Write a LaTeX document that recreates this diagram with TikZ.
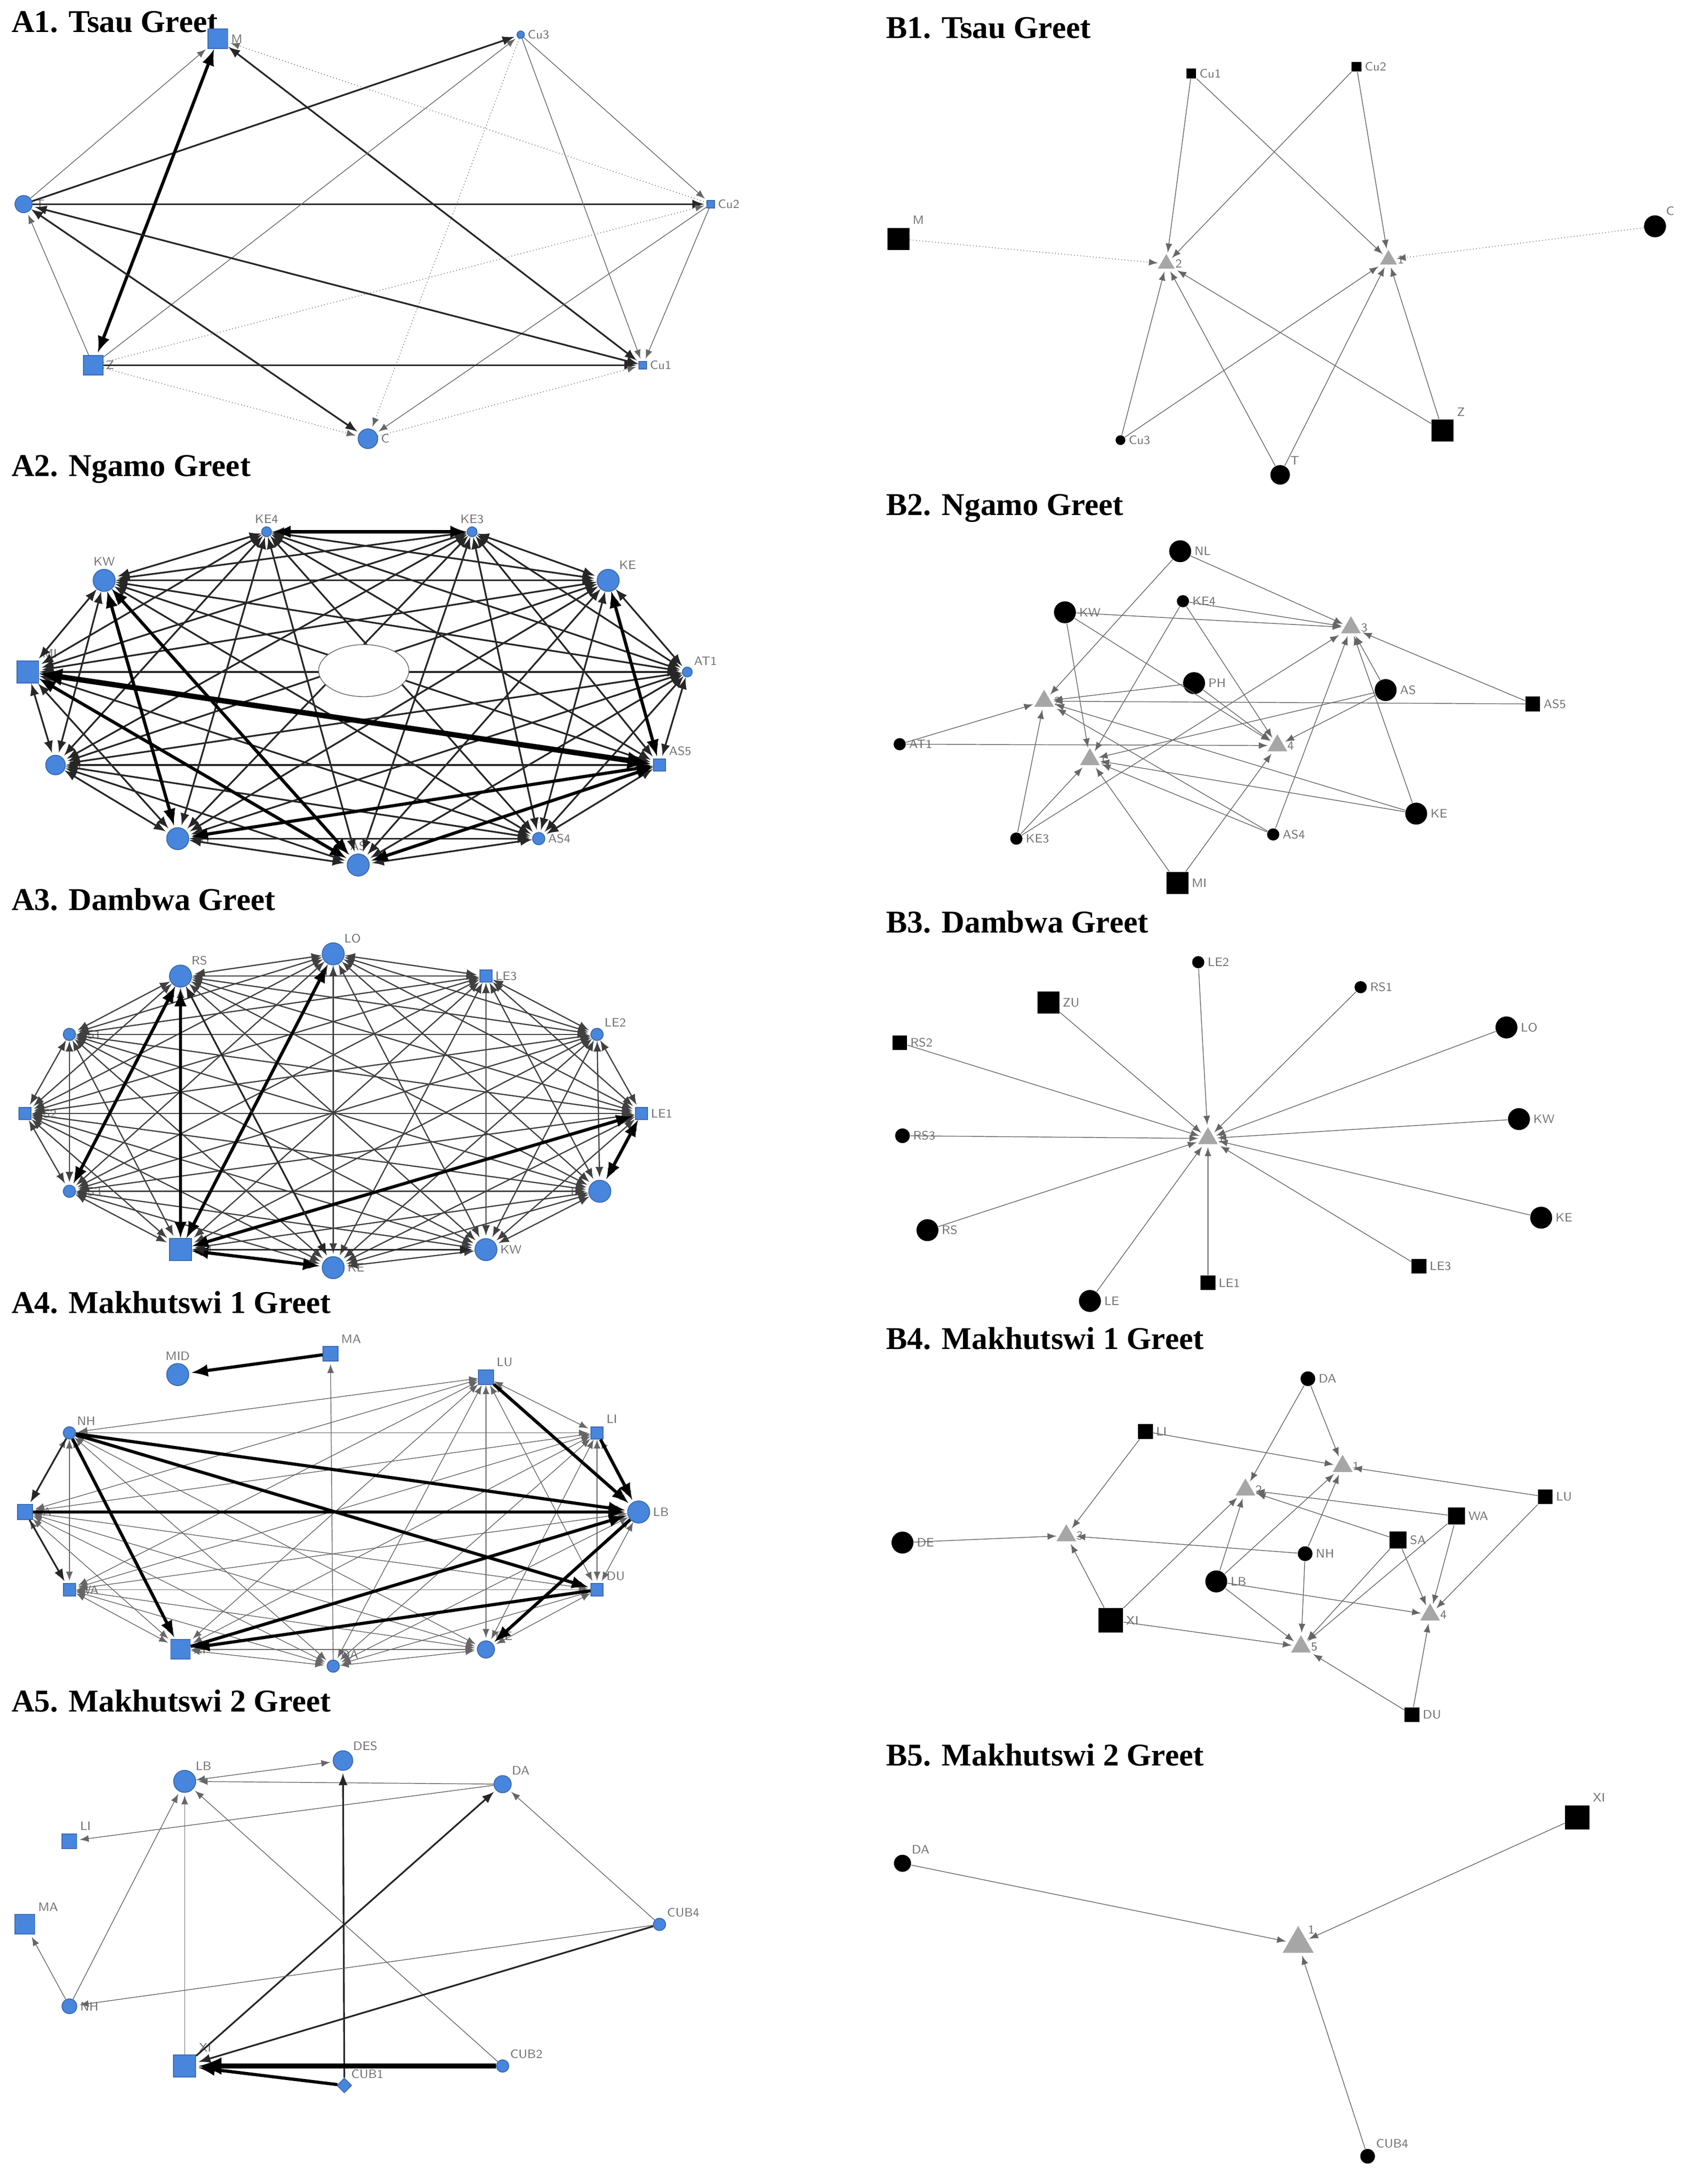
\documentclass[tikz,border=0pt]{standalone}
\usepackage{fontspec}
\setmainfont{Liberation Serif}
\usetikzlibrary{shapes.geometric}
\definecolor{nodeblue}{RGB}{72,134,222}
\tikzset{
  lab/.style={font=\fontsize{5}{5}\selectfont\sffamily, text=black!55, inner sep=1pt},
  bsq/.style={draw=nodeblue!80!black, fill=nodeblue, rectangle, inner sep=0pt, minimum size=#1},
  bci/.style={draw=nodeblue!80!black, fill=nodeblue, circle, inner sep=0pt, minimum size=#1},
  bdi/.style={draw=nodeblue!80!black, fill=nodeblue, diamond, inner sep=0pt, minimum size=#1},
  ksq/.style={fill=black, rectangle, inner sep=0pt, minimum size=#1},
  kci/.style={fill=black, circle, inner sep=0pt, minimum size=#1},
  tri/.style={fill=black!35, isosceles triangle, shape border rotate=90, isosceles triangle apex angle=60, inner sep=0pt, minimum size=#1},
  e/.style={->, >=latex, draw=black!60, line width=0.3pt, shorten >=1pt},
  ed/.style={e, densely dotted},
  em/.style={e, draw=black!85, line width=0.7pt},
  et/.style={e, draw=black, line width=1.3pt},
  ett/.style={e, draw=black, line width=2.2pt},
  ttl/.style={anchor=west, font=\fontsize{13}{15}\selectfont\bfseries, inner sep=0pt},
}
\begin{document}
\begin{tikzpicture}[x=0.02cm, y=-0.02cm]
  \useasboundingbox (0,0) rectangle (1220,1573);

  % titles
  \node[ttl] (tA1) at (8,16) {A1. Tsau Greet};
  \node[ttl] (tA2) at (8,338) {A2. Ngamo Greet};
  \node[ttl] (tA3) at (8,648) {A3. Dambwa Greet};
  \node[ttl] (tA4) at (8,938) {A4. Makhutswi 1 Greet};
  \node[ttl] (tA5) at (8,1225) {A5. Makhutswi 2 Greet};
  \node[ttl] (tB1) at (638,20) {B1. Tsau Greet};
  \node[ttl] (tB2) at (638,366) {B2. Ngamo Greet};
  \node[ttl] (tB3) at (638,664) {B3. Dambwa Greet};
  \node[ttl] (tB4) at (638,964) {B4. Makhutswi 1 Greet};
  \node[ttl] (tB5) at (638,1264) {B5. Makhutswi 2 Greet};

  % A1
  \node[bsq=8pt, label={[lab]right:M}] (a1M) at (157,28) {};
  \node[bci=3pt, label={[lab]right:Cu3}] (a1Cu3) at (375,25) {};
  \node[bsq=3pt, label={[lab]right:Cu2}] (a1Cu2) at (512,147) {};
  \node[bsq=3pt, label={[lab]right:Cu1}] (a1Cu1) at (463,263) {};
  \node[bci=8pt, label={[lab]right:C}] (a1C) at (265,316) {};
  \node[bsq=8pt, label={[lab]right:Z}] (a1Z) at (67,263) {};
  \node[bci=7pt, label={[lab]right:T}] (a1T) at (17,147) {};
  \draw[e] (a1T) -- (a1M);
  \draw[em] (a1T) -- (a1Cu3);
  \draw[em] (a1T) -- (a1Cu2);
  \draw[et, <->] (a1M) -- (a1Z);
  \draw[em, <->] (a1M) -- (a1Cu1);
  \draw[ed] (a1Cu2) -- (a1M);
  \draw[e] (a1Z) -- (a1Cu3);
  \draw[ed] (a1Cu3) -- (a1C);
  \draw[e] (a1Cu3) -- (a1Cu1);
  \draw[e] (a1Cu3) -- (a1Cu2);
  \draw[ed] (a1Z) -- (a1Cu2);
  \draw[e] (a1Cu2) -- (a1C);
  \draw[e] (a1Cu2) -- (a1Cu1);
  \draw[em, <->] (a1Cu1) -- (a1T);
  \draw[em, <->] (a1T) -- (a1C);
  \draw[e] (a1Z) -- (a1T);
  \draw[em] (a1Z) -- (a1Cu1);
  \draw[ed] (a1Z) -- (a1C);
  \draw[ed] (a1C) -- (a1Cu1);

  % A2
  \node[bci=4pt, label={[lab]above:KE4}] (a2KE4) at (192,383) {};
  \node[bci=4pt, label={[lab]above:KE3}] (a2KE3) at (340,383) {};
  \node[bci=9pt, label={[lab]above:KW}] (a2KW) at (75,418) {};
  \node[bci=9pt, label={[lab]above right:KE}] (a2KE) at (438,418) {};
  \node[bsq=9pt, label={[lab]above right:MI}] (a2MI) at (20,484) {};
  \node[bci=4pt, label={[lab]above right:AT1}] (a2AT1) at (495,484) {};
  \node[bci=8pt, label={[lab]right:NL}] (a2NL) at (40,551) {};
  \node[bsq=5pt, label={[lab]above right:AS5}] (a2AS5) at (475,551) {};
  \node[bci=9pt, label={[lab]right:PH}] (a2PH) at (128,604) {};
  \node[bci=5pt, label={[lab]right:AS4}] (a2AS4) at (388,604) {};
  \node[bci=9pt, label={[lab]above:AS}] (a2AS) at (258,623) {};
  \foreach \u [count=\i] in {KE4,KE3,KW,KE,MI,AT1,NL,AS5,PH,AS4,AS}{
    \foreach \v [count=\j] in {KE4,KE3,KW,KE,MI,AT1,NL,AS5,PH,AS4,AS}{
      \ifnum\j>\i \draw[em, <->] (a2\u) -- (a2\v); \fi
    }
  }
  \draw[ett, <->] (a2MI) -- (a2AS5);
  \draw[et, <->] (a2KW) -- (a2PH);
  \draw[et, <->] (a2KW) -- (a2AS);
  \draw[et, <->] (a2MI) -- (a2AS);
  \draw[et, <->] (a2AS5) -- (a2AS);
  \draw[et, <->] (a2AS5) -- (a2PH);
  \draw[et, <->] (a2KE) -- (a2AS5);
  \draw[et, <->] (a2KE3) -- (a2KE4);
  \node[ellipse, draw=black!60, line width=0.3pt, fill=white, minimum width=1.3cm, minimum height=0.75cm, inner sep=0pt] (a2hole) at (262,483) {};

  % A3
  \node[bci=9pt, label={[lab]above right:LO}] (a3LO) at (240,687) {};
  \node[bci=9pt, label={[lab]above right:RS}] (a3RS) at (130,703) {};
  \node[bsq=5pt, label={[lab]right:LE3}] (a3LE3) at (350,703) {};
  \node[bci=5pt, label={[lab]right:RS1}] (a3RS1) at (50,745) {};
  \node[bci=5pt, label={[lab]above right:LE2}] (a3LE2) at (430,745) {};
  \node[bsq=5pt, label={[lab]right:RS2}] (a3RS2) at (18,802) {};
  \node[bsq=5pt, label={[lab]right:LE1}] (a3LE1) at (462,802) {};
  \node[bci=5pt, label={[lab]right:RS3}] (a3RS3) at (50,858) {};
  \node[bci=9pt, label={[lab]left:LE}] (a3LE) at (432,858) {};
  \node[bsq=9pt, label={[lab]right:ZU}] (a3ZU) at (130,900) {};
  \node[bci=9pt, label={[lab]right:KW}] (a3KW) at (350,900) {};
  \node[bci=9pt, label={[lab]right:KE}] (a3KE) at (240,913) {};
  \foreach \u [count=\i] in {LO,RS,LE3,RS1,LE2,RS2,LE1,RS3,LE,ZU,KW,KE}{
    \foreach \v [count=\j] in {LO,RS,LE3,RS1,LE2,RS2,LE1,RS3,LE,ZU,KW,KE}{
      \ifnum\j>\i \draw[e, draw=black!75, line width=0.5pt, <->] (a3\u) -- (a3\v); \fi
    }
  }
  \draw[et, <->] (a3ZU) -- (a3LE1);
  \draw[et, <->] (a3ZU) -- (a3LO);
  \draw[et, <->] (a3ZU) -- (a3RS);
  \draw[et, <->] (a3ZU) -- (a3KE);
  \draw[et, <->] (a3RS) -- (a3RS3);
  \draw[et, <->] (a3LE1) -- (a3LE);
  \draw[em, <->] (a3ZU) -- (a3KW);
  \draw[em, <->] (a3RS) -- (a3KE);

  % A4
  \node[bci=9pt, label={[lab]above:MID}] (a4MID) at (128,990) {};
  \node[bsq=6pt, label={[lab]above right:MA}] (a4MA) at (238,975) {};
  \node[bsq=6pt, label={[lab]above right:LU}] (a4LU) at (350,992) {};
  \node[bci=5pt, label={[lab]above right:NH}] (a4NH) at (50,1032) {};
  \node[bsq=5pt, label={[lab]above right:LI}] (a4LI) at (430,1032) {};
  \node[bsq=6pt, label={[lab]right:SA}] (a4SA) at (18,1089) {};
  \node[bci=9pt, label={[lab]right:LB}] (a4LB) at (460,1089) {};
  \node[bsq=5pt, label={[lab]right:WA}] (a4WA) at (50,1145) {};
  \node[bsq=5pt, label={[lab]above right:DU}] (a4DU) at (430,1145) {};
  \node[bsq=8pt, label={[lab]right:XI}] (a4XI) at (130,1188) {};
  \node[bci=5pt, label={[lab]above right:DA}] (a4DA) at (240,1200) {};
  \node[bci=7pt, label={[lab]above right:DE}] (a4DE) at (350,1188) {};
  \draw[et] (a4MA) -- (a4MID);
  \draw[e] (a4DA) -- (a4MA);
  \foreach \u [count=\i] in {LU,NH,LI,SA,LB,WA,DU,XI,DA,DE}{
    \foreach \v [count=\j] in {LU,NH,LI,SA,LB,WA,DU,XI,DA,DE}{
      \ifnum\j>\i \draw[e, <->] (a4\u) -- (a4\v); \fi
    }
  }
  \draw[et] (a4NH) -- (a4LB);
  \draw[et] (a4NH) -- (a4DU);
  \draw[et] (a4SA) -- (a4LB);
  \draw[et] (a4XI) -- (a4LB);
  \draw[et] (a4LU) -- (a4LB);
  \draw[et] (a4LI) -- (a4LB);
  \draw[et] (a4DU) -- (a4XI);
  \draw[et] (a4LB) -- (a4DE);
  \draw[et] (a4NH) -- (a4XI);
  \draw[em] (a4SA) -- (a4WA);
  \draw[em] (a4NH) -- (a4SA);

  % A5
  \node[bci=9pt, label={[lab]above right:LB}] (a5LB) at (133,1283) {};
  \node[bci=8pt, label={[lab]above right:DES}] (a5DES) at (247,1268) {};
  \node[bci=7pt, label={[lab]above right:DA}] (a5DA) at (362,1285) {};
  \node[bsq=6pt, label={[lab]above right:LI}] (a5LI) at (50,1326) {};
  \node[bci=5pt, label={[lab]above right:CUB4}] (a5CUB4) at (475,1386) {};
  \node[bsq=8pt, label={[lab]above right:MA}] (a5MA) at (18,1386) {};
  \node[bci=6pt, label={[lab]right:NH}] (a5NH) at (50,1445) {};
  \node[bsq=9pt, label={[lab]above right:XI}] (a5XI) at (133,1488) {};
  \node[bdi=6pt, label={[lab]above right:CUB1}] (a5CUB1) at (248,1502) {};
  \node[bci=5pt, label={[lab]above right:CUB2}] (a5CUB2) at (362,1488) {};
  \draw[e, <->] (a5LB) -- (a5DES);
  \draw[e] (a5DA) -- (a5LB);
  \draw[e] (a5DA) -- (a5LI);
  \draw[e] (a5NH) -- (a5MA);
  \draw[e] (a5NH) -- (a5LB);
  \draw[e] (a5XI) -- (a5LB);
  \draw[e] (a5CUB2) -- (a5LB);
  \draw[em] (a5XI) -- (a5DA);
  \draw[em] (a5CUB1) -- (a5DES);
  \draw[ett] (a5CUB2) -- (a5XI);
  \draw[et] (a5CUB1) -- (a5XI);
  \draw[e] (a5CUB4) -- (a5NH);
  \draw[e] (a5CUB4) -- (a5DA);
  \draw[em] (a5CUB4) -- (a5XI);

  % B1
  \node[ksq=4pt, label={[lab]right:Cu1}] (b1Cu1) at (858,53) {};
  \node[ksq=4pt, label={[lab]right:Cu2}] (b1Cu2) at (977,48) {};
  \node[ksq=9pt, label={[lab]above right:M}] (b1M) at (647,172) {};
  \node[tri=6pt, label={[lab]right:2}] (b1t2) at (840,190) {};
  \node[tri=6pt, label={[lab]right:1}] (b1t1) at (1000,187) {};
  \node[kci=9pt, label={[lab]above right:C}] (b1C) at (1192,163) {};
  \node[kci=4pt, label={[lab]right:Cu3}] (b1Cu3) at (807,317) {};
  \node[ksq=9pt, label={[lab]above right:Z}] (b1Z) at (1039,310) {};
  \node[kci=8pt, label={[lab]above right:T}] (b1T) at (922,342) {};
  \foreach \p in {Cu1,Cu2,Cu3,Z,T}{
    \draw[e] (b1\p) -- (b1t2);
    \draw[e] (b1\p) -- (b1t1);
  }
  \draw[ed] (b1M) -- (b1t2);
  \draw[ed] (b1C) -- (b1t1);

  % B2
  \node[kci=9pt, label={[lab]right:NL}] (b2NL) at (850,397) {};
  \node[kci=5pt, label={[lab]right:KE4}] (b2KE4) at (852,433) {};
  \node[kci=9pt, label={[lab]right:KW}] (b2KW) at (767,441) {};
  \node[tri=7pt, label={[lab]right:3}] (b2t3) at (973,452) {};
  \node[kci=9pt, label={[lab]right:PH}] (b2PH) at (860,492) {};
  \node[kci=9pt, label={[lab]right:AS}] (b2AS) at (998,497) {};
  \node[tri=7pt, label={[lab]right:2}] (b2t2) at (752,505) {};
  \node[ksq=6pt, label={[lab]right:AS5}] (b2AS5) at (1104,507) {};
  \node[kci=5pt, label={[lab]right:AT1}] (b2AT1) at (648,536) {};
  \node[tri=7pt, label={[lab]right:1}] (b2t1) at (785,547) {};
  \node[tri=7pt, label={[lab]right:4}] (b2t4) at (920,537) {};
  \node[kci=5pt, label={[lab]right:KE3}] (b2KE3) at (732,604) {};
  \node[kci=5pt, label={[lab]right:AS4}] (b2AS4) at (917,601) {};
  \node[kci=9pt, label={[lab]right:KE}] (b2KE) at (1020,586) {};
  \node[ksq=9pt, label={[lab]right:MI}] (b2MI) at (848,636) {};
  \foreach \p/\t in {NL/3,NL/2,KE4/3,KE4/1,KE4/4,KW/3,KW/1,KW/4,PH/2,PH/4,AS/3,AS/1,AS/4,
      AS5/3,AS5/2,AT1/2,AT1/4,KE3/2,KE3/1,KE3/3,AS4/3,AS4/1,AS4/2,KE/2,KE/1,KE/3,MI/1,MI/4}{
    \draw[e] (b2\p) -- (b2t\t);
  }

  % B3
  \node[tri=7pt, label={[lab]right:1}] (b3t1) at (870,820) {};
  \node[kci=5pt, label={[lab]right:LE2}] (b3LE2) at (863,693) {};
  \node[kci=5pt, label={[lab]right:RS1}] (b3RS1) at (980,711) {};
  \node[ksq=9pt, label={[lab]right:ZU}] (b3ZU) at (755,722) {};
  \node[ksq=6pt, label={[lab]right:RS2}] (b3RS2) at (648,751) {};
  \node[kci=9pt, label={[lab]right:LO}] (b3LO) at (1085,740) {};
  \node[kci=6pt, label={[lab]right:RS3}] (b3RS3) at (650,818) {};
  \node[kci=9pt, label={[lab]right:KW}] (b3KW) at (1094,806) {};
  \node[kci=9pt, label={[lab]right:RS}] (b3RS) at (668,886) {};
  \node[kci=9pt, label={[lab]right:KE}] (b3KE) at (1110,877) {};
  \node[ksq=6pt, label={[lab]right:LE1}] (b3LE1) at (870,924) {};
  \node[ksq=6pt, label={[lab]right:LE3}] (b3LE3) at (1022,912) {};
  \node[kci=9pt, label={[lab]right:LE}] (b3LE) at (785,937) {};
  \foreach \p in {LE2,RS1,ZU,RS2,LO,RS3,KW,RS,KE,LE1,LE3,LE}{
    \draw[e] (b3\p) -- (b3t1);
  }

  % B4
  \node[kci=6pt, label={[lab]right:DA}] (b4DA) at (942,993) {};
  \node[ksq=6pt, label={[lab]right:LI}] (b4LI) at (825,1031) {};
  \node[tri=7pt, label={[lab]right:1}] (b4t1) at (967,1056) {};
  \node[tri=7pt, label={[lab]right:2}] (b4t2) at (897,1073) {};
  \node[ksq=6pt, label={[lab]right:LU}] (b4LU) at (1113,1078) {};
  \node[ksq=7pt, label={[lab]right:WA}] (b4WA) at (1049,1092) {};
  \node[kci=9pt, label={[lab]right:DE}] (b4DE) at (650,1111) {};
  \node[tri=7pt, label={[lab]right:3}] (b4t3) at (768,1106) {};
  \node[ksq=7pt, label={[lab]right:SA}] (b4SA) at (1007,1109) {};
  \node[kci=6pt, label={[lab]right:NH}] (b4NH) at (940,1119) {};
  \node[kci=9pt, label={[lab]right:LB}] (b4LB) at (876,1139) {};
  \node[ksq=10pt, label={[lab]right:XI}] (b4XI) at (800,1167) {};
  \node[tri=7pt, label={[lab]right:4}] (b4t4) at (1030,1163) {};
  \node[tri=7pt, label={[lab]right:5}] (b4t5) at (937,1186) {};
  \node[ksq=6pt, label={[lab]right:DU}] (b4DU) at (1017,1235) {};
  \foreach \p/\t in {DA/2,DA/1,LI/3,LI/1,LU/1,LU/4,WA/2,WA/4,WA/5,DE/3,SA/2,SA/4,SA/5,
      NH/1,NH/3,NH/5,LB/1,LB/4,LB/5,LB/2,XI/3,XI/5,XI/2,DU/4,DU/5}{
    \draw[e] (b4\p) -- (b4t\t);
  }

  % B5
  \node[kci=7pt, label={[lab]above right:DA}] (b5DA) at (650,1342) {};
  \node[ksq=10pt, label={[lab]above right:XI}] (b5XI) at (1136,1309) {};
  \node[tri=11pt, label={[lab]above right:1}] (b5t1) at (935,1400) {};
  \node[kci=6pt, label={[lab]above right:CUB4}] (b5CUB4) at (985,1553) {};
  \foreach \p in {DA,XI,CUB4}{
    \draw[e] (b5\p) -- (b5t1);
  }
\end{tikzpicture}
\end{document}
